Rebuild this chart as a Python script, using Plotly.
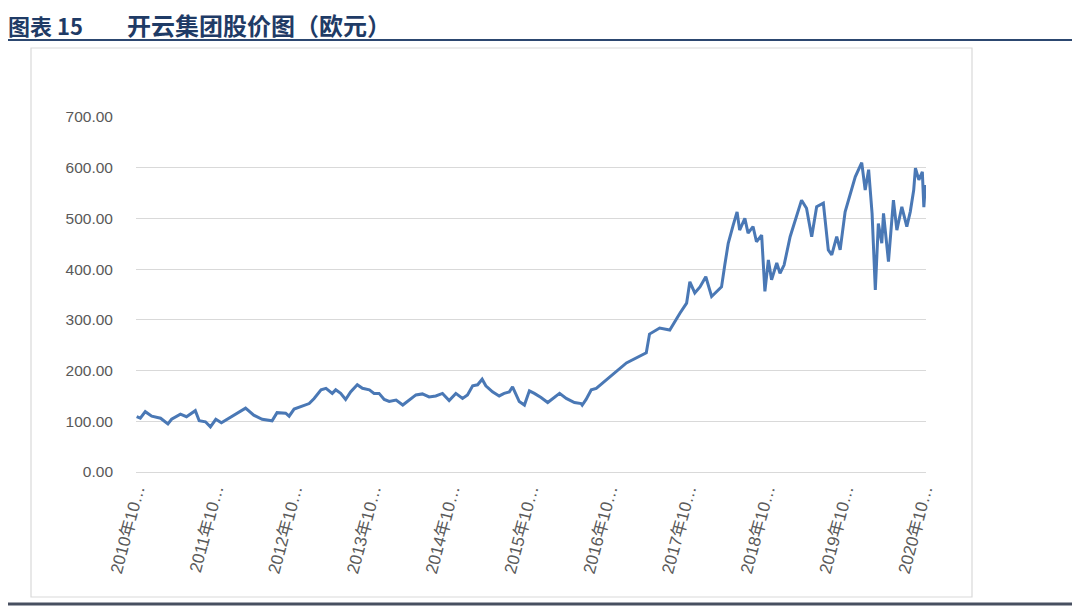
import plotly.graph_objects as go

# ---- data ----
dates = [
    "2010-10-01", "2010-10-18", "2010-11-10", "2010-12-10", "2011-01-20", "2011-02-23",
    "2011-03-12", "2011-04-22", "2011-05-20", "2011-06-30", "2011-07-18", "2011-08-16",
    "2011-09-08", "2011-10-03", "2011-10-29", "2011-12-02", "2012-01-10", "2012-02-18",
    "2012-03-27", "2012-05-05", "2012-06-20", "2012-07-13", "2012-08-22", "2012-09-07",
    "2012-09-30", "2012-11-08", "2012-12-09", "2013-01-01", "2013-02-02", "2013-02-25",
    "2013-03-26", "2013-04-11", "2013-05-04", "2013-05-27", "2013-06-19", "2013-07-20",
    "2013-08-13", "2013-09-14", "2013-10-06", "2013-10-29", "2013-11-22", "2013-12-15",
    "2014-01-16", "2014-02-16", "2014-03-17", "2014-04-18", "2014-05-18", "2014-06-18",
    "2014-07-19", "2014-08-19", "2014-09-19", "2014-10-20", "2014-11-20", "2014-12-13",
    "2015-01-06", "2015-01-29", "2015-02-19", "2015-03-08", "2015-04-08", "2015-05-09",
    "2015-06-01", "2015-06-25", "2015-07-10", "2015-07-26", "2015-08-10", "2015-09-03",
    "2015-09-26", "2015-10-19", "2015-11-19", "2015-12-20", "2016-01-13", "2016-02-13",
    "2016-03-15", "2016-04-22", "2016-05-23", "2016-05-28", "2016-06-15", "2016-07-09",
    "2016-08-01", "2016-10-02", "2016-12-19", "2017-03-21", "2017-04-05", "2017-05-22",
    "2017-07-08", "2017-08-24", "2017-09-24", "2017-10-09", "2017-11-01", "2017-11-25",
    "2017-12-22", "2018-01-18", "2018-02-11", "2018-03-05", "2018-03-20", "2018-04-05",
    "2018-04-28", "2018-05-16", "2018-05-28", "2018-06-21", "2018-07-06", "2018-07-29",
    "2018-08-14", "2018-09-07", "2018-09-22", "2018-10-08", "2018-10-23", "2018-11-16",
    "2018-12-01", "2018-12-20", "2019-01-17", "2019-02-10", "2019-03-11", "2019-04-03",
    "2019-04-27", "2019-05-20", "2019-06-20", "2019-07-13", "2019-07-29", "2019-08-21",
    "2019-09-06", "2019-09-29", "2019-10-22", "2019-11-15", "2019-12-15", "2019-12-31",
    "2020-01-16", "2020-02-01", "2020-02-16", "2020-03-01", "2020-03-17", "2020-03-25",
    "2020-04-17", "2020-05-10", "2020-05-26", "2020-06-18", "2020-07-11", "2020-07-27",
    "2020-08-12", "2020-08-20", "2020-09-05", "2020-09-21", "2020-09-28", "2020-10-05",
]
prices = [
    109, 106, 119, 110, 106, 95,
    104, 114, 109, 121, 101, 99,
    89, 104, 97, 106, 116, 126,
    112, 104, 101, 117, 116, 110,
    124, 130, 135, 145, 162, 165,
    155, 162, 155, 143, 158, 172,
    165, 162, 155, 155, 143, 139,
    142, 132, 142, 152, 154, 148,
    150, 155, 141, 155, 145, 152,
    170, 172, 183, 170, 158, 150,
    155, 158, 168, 152, 139, 132,
    160, 155, 147, 137, 145, 155,
    145, 137, 135, 132, 143, 162,
    165, 187, 215, 235, 272, 284,
    280, 313, 333, 375, 353, 365,
    385, 346, 356, 365, 408, 451,
    487, 513, 477, 500, 471, 484,
    454, 467, 356, 418, 379, 412,
    392, 408, 464, 497, 536, 520,
    464, 523, 530, 438, 428, 464,
    438, 513, 546, 582, 610, 556,
    596, 510, 359, 490, 451, 510,
    415, 536, 477, 523, 484, 513,
    556, 599, 576, 592, 522, 566,
]
tick_dates = ["%d-10-01" % y for y in range(2010, 2021)]
tick_labels = ["%d年10…" % y for y in range(2010, 2021)]
y_ticks = [0, 100, 200, 300, 400, 500, 600, 700]
title_label = "图表 15"
title_text = "开云集团股价图（欧元）"

# ---- layout geometry (pixels as seen on screen; page body adds 8px) ----
OFF = 8
W, H = 1080, 610
PL, PR, PT, PB = 136 - OFF, 926 - OFF, 117 - OFF, 472 - OFF  # plot area in figure px


def px(x):
    return (x - OFF - PL) / (PR - PL)


def py(y):
    return (PB - (y - OFF)) / (PB - PT)


fig = go.Figure()
fig.add_trace(go.Scatter(
    x=dates, y=prices, mode="lines",
    line=dict(color="#4a78b5", width=3),
    hoverinfo="skip", showlegend=False,
))

shapes = [
    # chart frame
    dict(type="rect", xref="paper", yref="paper",
         x0=px(31), x1=px(972), y0=py(597), y1=py(48),
         line=dict(color="#d9d9d9", width=1.2), layer="below"),
    # line under title
    dict(type="line", xref="paper", yref="paper",
         x0=px(4), x1=px(1076), y0=py(40), y1=py(40),
         line=dict(color="#2c4770", width=2.2)),
    # bottom rule
    dict(type="line", xref="paper", yref="paper",
         x0=px(2), x1=px(1078), y0=py(604), y1=py(604),
         line=dict(color="#474f60", width=3)),
]

fig.update_layout(
    width=W, height=H,
    margin=dict(l=PL, r=W - PR, t=PT, b=H - PB, pad=0),
    paper_bgcolor="white", plot_bgcolor="white",
    shapes=shapes,
    annotations=[
        dict(text="<b>" + title_label + "</b>",
             xref="paper", yref="paper", x=px(7), y=py(25),
             xanchor="left", yanchor="middle", showarrow=False, borderpad=0,
             font=dict(family="Noto Sans CJK SC", size=22, color="#1f3b66")),
        dict(text="<b>" + title_text + "</b>",
             xref="paper", yref="paper", x=px(126), y=py(25),
             xanchor="left", yanchor="middle", showarrow=False, borderpad=0,
             font=dict(family="Noto Sans CJK SC", size=24, color="#1f3b66")),
    ],
    xaxis=dict(
        type="date",
        range=["2010-09-28", "2020-10-08"],
        tickmode="array", tickvals=tick_dates, ticktext=tick_labels,
        tickangle=-75,
        tickfont=dict(family="Liberation Sans, Noto Sans CJK SC", size=17, color="#595959"),
        showgrid=False, showline=True, linecolor="#d9d9d9", linewidth=1.2,
        ticks="", zeroline=False,
    ),
    yaxis=dict(
        range=[0, 700],
        tickmode="array", tickvals=y_ticks,
        tickformat=".2f",
        tickfont=dict(family="Liberation Sans", size=15.5, color="#595959"),
        showgrid=True, gridcolor="#d9d9d9", gridwidth=1.2,
        zeroline=False, showline=False, ticks="",
        ticklabelstandoff=22,
    ),
)

fig.write_html("out.html")
